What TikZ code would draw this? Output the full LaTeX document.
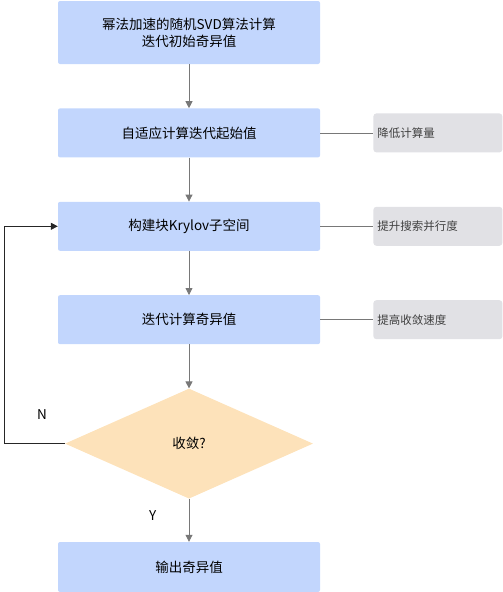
\documentclass[tikz,border=0pt]{standalone}
\usepackage{fontspec}
\setmainfont{Noto Sans CJK SC}
\usetikzlibrary{arrows.meta,positioning,shapes.geometric}
\definecolor{StepBlue}{RGB}{194,214,253}
\definecolor{DecideOrange}{RGB}{253,226,186}
\definecolor{NoteGray}{RGB}{225,225,229}
\definecolor{LineGray}{RGB}{120,120,120}
\tikzset{
  stepbox/.style={fill=StepBlue,rounded corners=2pt,minimum width=262pt,
    minimum height=49pt,align=center,font=\fontsize{13.5}{17}\selectfont,inner sep=2pt},
  decision/.style={diamond,fill=DecideOrange,minimum width=248pt,
    minimum height=110pt,inner sep=0pt,font=\fontsize{13.5}{17}\selectfont},
  note/.style={fill=NoteGray,rounded corners=3pt,minimum width=129pt,
    minimum height=39pt,text width=121pt,align=left,font=\fontsize{11.5}{13}\selectfont,
    text=black!75},
  flow/.style={-{Triangle[length=7pt,width=7pt]},LineGray,thick},
  link/.style={LineGray,thick},
  answer/.style={black,font=\fontsize{13.5}{17}\selectfont}
}
\begin{document}
\begin{tikzpicture}[x=1pt,y=1pt,node distance=44pt]
  \useasboundingbox (0,0) rectangle (503,-592);
  \node[stepbox,minimum height=63pt] (power) at (189,-32.5) {幂法加速的随机SVD算法计算\\迭代初始奇异值};
  \node[stepbox,below=of power] (start) {自适应计算迭代起始值};
  \node[stepbox,below=of start] (krylov) {构建块Krylov子空间};
  \node[stepbox,below=of krylov] (iter) {迭代计算奇异值};
  \node[decision,below=of iter] (conv) {收敛?};
  \node[stepbox,below=43pt of conv,minimum height=50pt] (out) {输出奇异值};
  % side notes
  \node[note,right=53pt of start] (lesscost) {降低计算量};
  \node[note,right=53pt of krylov] (parallel) {提升搜索并行度};
  \node[note,right=53pt of iter] (speed) {提高收敛速度};
  \draw[link] (start) -- (lesscost);
  \draw[link] (krylov) -- (parallel);
  \draw[link] (iter) -- (speed);
  % main flow
  \draw[flow] (power) -- (start);
  \draw[flow] (start) -- (krylov);
  \draw[flow] (krylov) -- (iter);
  \draw[flow] (iter) -- (conv);
  \draw[flow] (conv) -- node[answer,left=29pt,pos=0.4] {Y} (out);
  \draw[flow,black!85,line width=0.7pt] (conv.west) -- ++(-60pt,0) node[answer,above=20pt,pos=0.38] {N} |- (krylov.west);
\end{tikzpicture}
\end{document}
